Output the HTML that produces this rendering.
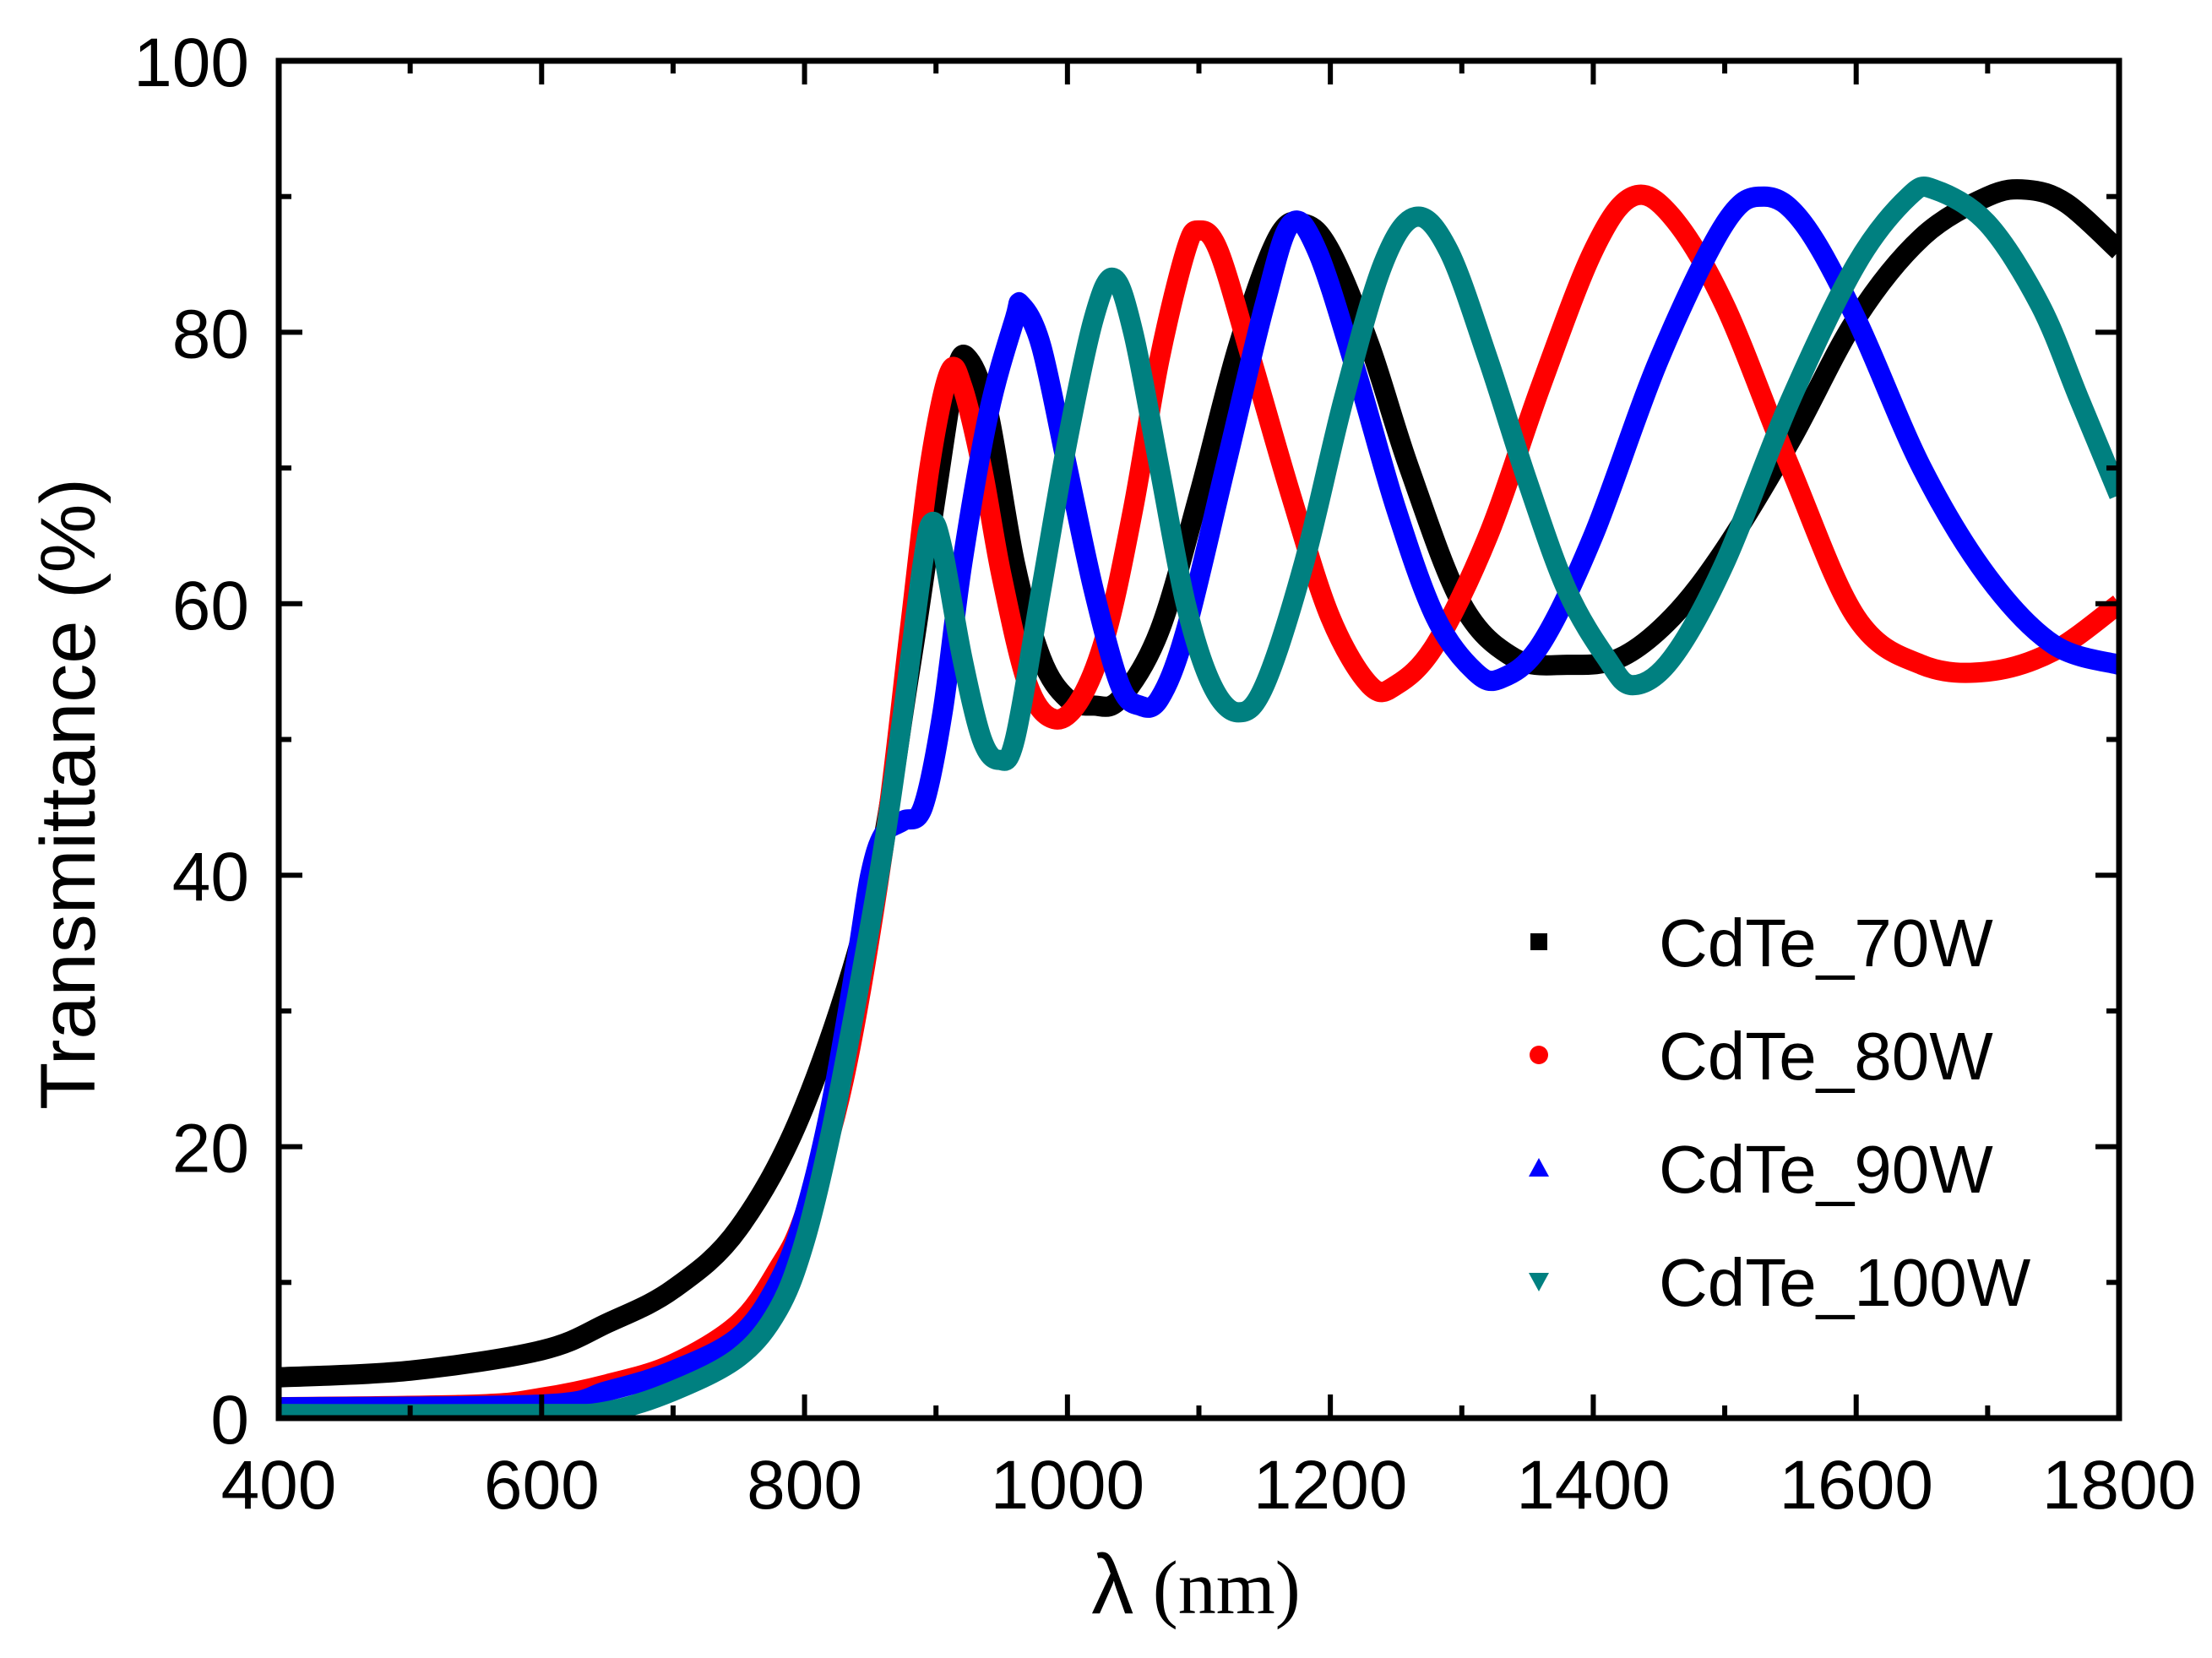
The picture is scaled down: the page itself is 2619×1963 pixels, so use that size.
<!DOCTYPE html>
<html><head><meta charset="utf-8"><style>
html,body{margin:0;padding:0;background:#fff;}
svg{display:block;}
text{font-family:"Liberation Sans",Arial,sans-serif;fill:#000;}
</style></head><body>
<svg id="chart" width="2619" height="1963" viewBox="0 0 2619 1963" xmlns="http://www.w3.org/2000/svg">
<g id="series"></g>
<g id="axes"></g>
<g id="legend"></g>
<text transform="translate(112,940) rotate(-90)" text-anchor="middle" font-size="92">Transmittance (%)</text>
<text x="1416" y="1910" text-anchor="middle" font-size="92"><tspan font-size="100">λ</tspan><tspan font-family="Liberation Serif, serif" font-size="90"> (nm)</tspan></text>
</svg>
<script>
const xTicks=[400,600,800,1000,1200,1400,1600,1800];
const yTicks=[0,20,40,60,80,100];
const seriesNames=["CdTe_70W","CdTe_80W","CdTe_90W","CdTe_100W"];
const seriesColors=["#000000","#ff0000","#0000ff","#008080"];
const x70=[400,500,600,650,700,750,800,850,880,900,915,925,940,960,980,1000,1020,1040,1070,1100,1130,1160,1180,1200,1230,1260,1300,1340,1380,1420,1460,1500,1550,1600,1650,1700,1730,1760,1800];
const y70=[3,3.5,5,7,9.5,14,23,38,55,68,77,78,74,63,56,53,52.5,53,58,68,79,87,88,86,79,70,60,56,55.5,56,59,64,72,81,87,90,90.5,89.5,86];
const x80=[400,550,600,650,700,750,780,800,830,860,880,895,910,920,935,950,970,990,1010,1030,1050,1070,1090,1100,1115,1140,1170,1200,1230,1250,1280,1320,1360,1400,1430,1460,1500,1550,1600,1650,1700,1750,1800];
const y80=[0.8,1,1.5,2.5,4,7,11,15,25,42,58,70,77,76,70,62,54,51.5,53,58,67,78,86,87.5,86,78,68,59,54,54,57,65,76,86,90,88.5,82,70,59,55.5,55,56.5,60];
const x90=[400,600,650,700,750,780,800,820,840,850,860,875,890,905,920,940,960,965,980,1000,1020,1040,1055,1070,1090,1120,1150,1170,1190,1220,1250,1280,1310,1330,1360,1400,1450,1500,1530,1560,1600,1650,1700,1750,1800];
const y90=[0.8,1,2,3.5,6,10,15,23,34,40,43,44,45,52,63,74,81,82,79,70,61,54,52.5,53,58,70,82,88,86,77,67,59,55,54.5,57,65,78,88,90,88,81,70,62,57,55.5];
const x100=[400,600,650,700,750,780,800,820,840,860,875,890,897,905,920,935,948,960,980,1000,1020,1035,1050,1070,1090,1110,1130,1150,1180,1210,1240,1265,1290,1320,1350,1380,1410,1430,1460,1500,1550,1600,1640,1660,1700,1740,1770,1800];
const y100=[0.3,0.3,0.5,2,4.5,8,13,21,31,42,52,63,66,64,56,50,48.5,50,61,72,81,84,80,70,60,54,52,54,63,75,85,88.5,86,78,69,61,56,54,56,63,75,85,90,90.5,88,82,75,68];

const NS="http://www.w3.org/2000/svg";
const L=330,R=2509,T=72,B=1679;
function sx(v){return L+(v-400)/1400*(R-L);}
function sy(v){return B-v/100*(B-T);}
function mk(tag,attrs,parent){const e=document.createElementNS(NS,tag);for(const k in attrs)e.setAttribute(k,attrs[k]);parent.appendChild(e);return e;}

const sg=document.getElementById('series');
const allX=[x70,x80,x90,x100],allY=[y70,y80,y90,y100];
const sNames=['series-70w','series-80w','series-90w','series-100w'];
for(let s=0;s<4;s++){
  const xs=allX[s],ys=allY[s];
  const pts=xs.map((x,i)=>[sx(x),sy(ys[i])]);
  let d='M'+pts[0][0]+','+pts[0][1];
  for(let i=0;i<pts.length-1;i++){
    const p0=pts[Math.max(0,i-1)],p1=pts[i],p2=pts[i+1],p3=pts[Math.min(pts.length-1,i+2)];
    const c1=[p1[0]+(p2[0]-p0[0])/6,p1[1]+(p2[1]-p0[1])/6];
    const c2=[p2[0]-(p3[0]-p1[0])/6,p2[1]-(p3[1]-p1[1])/6];
    d+=' C'+c1[0]+','+c1[1]+' '+c2[0]+','+c2[1]+' '+p2[0]+','+p2[1];
  }
  const p=mk('path',{d:d,fill:'none',stroke:seriesColors[s],'stroke-width':24,'stroke-linejoin':'round','stroke-linecap':'butt'},sg);
  
  
}
const ax=document.getElementById('axes');
mk('rect',{x:0,y:0,width:2619,height:T,fill:'#fff'},ax);
mk('rect',{x:R,y:0,width:110,height:1963,fill:'#fff'},ax);
mk('rect',{x:0,y:B,width:2619,height:60,fill:'#fff'},ax);
const frame=mk('rect',{x:L,y:T,width:R-L,height:B-T,fill:'none',stroke:'#000','stroke-width':7},ax);


for(let i=0;i<xTicks.length;i++){
  const v=xTicks[i],x=sx(v);
  mk('line',{x1:x,y1:B,x2:x,y2:B-28,stroke:'#000','stroke-width':6},ax);
  mk('line',{x1:x,y1:T,x2:x,y2:T+28,stroke:'#000','stroke-width':6},ax);
  if(i<xTicks.length-1){const xm=sx(v+100);
    mk('line',{x1:xm,y1:B,x2:xm,y2:B-15,stroke:'#000','stroke-width':6},ax);
    mk('line',{x1:xm,y1:T,x2:xm,y2:T+15,stroke:'#000','stroke-width':6},ax);}
  const t=mk('text',{x:x,y:1786,'text-anchor':'middle','font-size':82},ax);t.textContent=v;
  
  
}
for(let i=0;i<yTicks.length;i++){
  const v=yTicks[i],y=sy(v);
  mk('line',{x1:L,y1:y,x2:L+28,y2:y,stroke:'#000','stroke-width':6},ax);
  mk('line',{x1:R,y1:y,x2:R-28,y2:y,stroke:'#000','stroke-width':6},ax);
  if(i<yTicks.length-1){const ym=sy(v+10);
    mk('line',{x1:L,y1:ym,x2:L+15,y2:ym,stroke:'#000','stroke-width':6},ax);
    mk('line',{x1:R,y1:ym,x2:R-15,y2:ym,stroke:'#000','stroke-width':6},ax);}
  const t=mk('text',{x:295,y:y+30,'text-anchor':'end','font-size':82},ax);t.textContent=v;
  
  
}
const lg=document.getElementById('legend');
const ly=[1115,1249,1383,1517];
for(let s=0;s<4;s++){
  const y=ly[s],x=1822,c=seriesColors[s];let m;
  if(s===0)m=mk('rect',{x:x-10,y:y-10,width:20,height:20,fill:c},lg);
  else if(s===1)m=mk('circle',{cx:x,cy:y,r:11,fill:c},lg);
  else if(s===2)m=mk('polygon',{points:`${x},${y-12} ${x+12},${y+10} ${x-12},${y+10}`,fill:c},lg);
  else m=mk('polygon',{points:`${x},${y+12} ${x+12},${y-10} ${x-12},${y-10}`,fill:c},lg);
  
  
  const t=mk('text',{x:1964,y:y+29,'font-size':80},lg);t.textContent=seriesNames[s];
  
  
}
</script>
</body></html>
